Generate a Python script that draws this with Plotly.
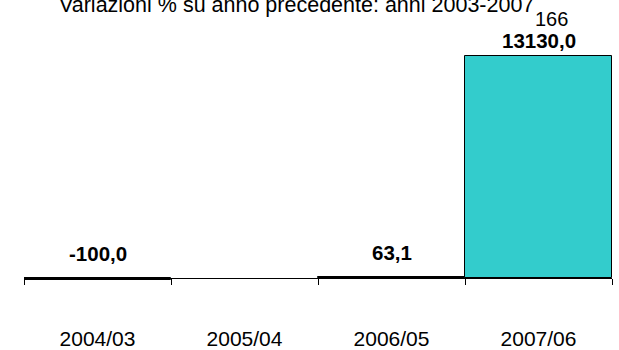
import plotly.graph_objects as go

categories = ["2004/03", "2005/04", "2006/05", "2007/06"]
values = [-100.0, None, 63.1, 13130.0]
value_labels = ["-100,0", "", "63,1", "13130,0"]
extra_label_cat = "2007/06"
extra_label_text = "166"
title_text = "Variazioni % su anno precedente: anni 2003-2007"

FONT = "Arial, Liberation Sans, sans-serif"
label_shift = [11, 0, 11, 2]

fig = go.Figure()
fig.add_trace(go.Bar(
    x=categories, y=values,
    marker=dict(color="#33CCCC", line=dict(color="black", width=1)),
    hoverinfo="skip",
))

for c, v, t, s in zip(categories, values, value_labels, label_shift):
    if v is None or not t:
        continue
    fig.add_annotation(x=c, y=max(v, 0), text="<b>" + t + "</b>", showarrow=False,
                       yanchor="bottom", yshift=s,
                       font=dict(family=FONT, size=20.5, color="black"))

top_val = values[categories.index(extra_label_cat)]
fig.add_annotation(x=extra_label_cat, y=top_val, text=extra_label_text, showarrow=False,
                   yanchor="bottom", yshift=24, xshift=13,
                   font=dict(family=FONT, size=20, color="black"))

fig.add_annotation(xref="paper", yref="paper", x=0.464, y=1.098, text=title_text,
                   showarrow=False, yanchor="middle",
                   font=dict(family=FONT, size=21.5, color="black"))

fig.update_layout(
    width=619, height=350,
    margin=dict(l=24, r=7, t=30, b=60, autoexpand=False),
    paper_bgcolor="white", plot_bgcolor="white",
    bargap=0,
    showlegend=False,
    xaxis=dict(
        type="category", range=[-0.5, 3.5], automargin=False,
        anchor="free", position=12 / 260,
        showline=True, linecolor="black", linewidth=1,
        ticks="outside", tickson="boundaries", ticklen=6, tickcolor="black", tickwidth=1,
        ticklabelstandoff=42,
        tickfont=dict(family=FONT, size=21, color="black"),
        showgrid=False, zeroline=False,
    ),
    yaxis=dict(
        range=[-710, 14667], visible=False, showgrid=False, zeroline=False,
        automargin=False,
    ),
)

fig.write_html("out.html", config={"displayModeBar": False},
               post_script="document.body.style.margin='0';document.body.style.overflow='hidden';")
